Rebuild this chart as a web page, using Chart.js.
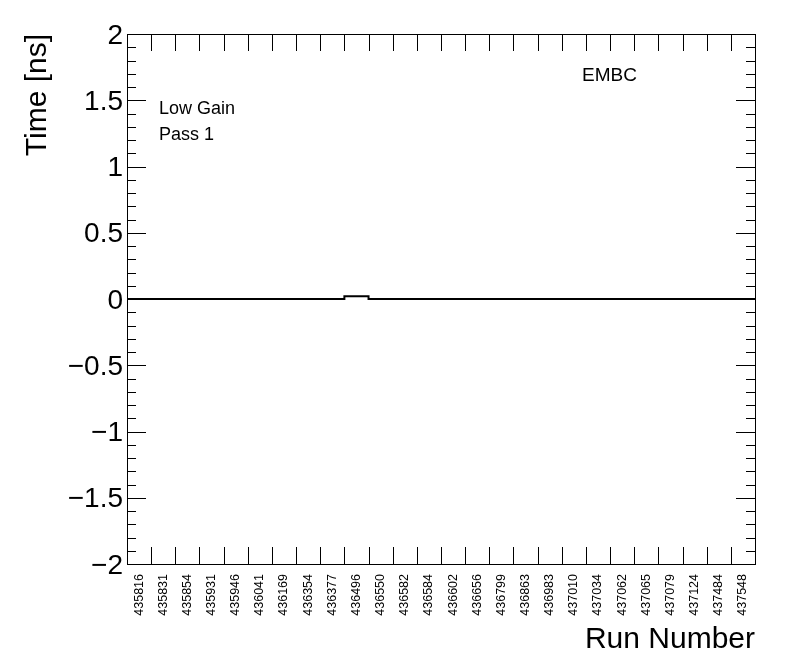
<!DOCTYPE html>
<html>
<head>
<meta charset="utf-8">
<script src="https://cdn.jsdelivr.net/npm/chart.js@4.4.1/dist/chart.umd.min.js"></script>
<style>
  html, body { margin: 0; padding: 0; background: #fff; }
  #c { display: block; }
</style>
</head>
<body>
<canvas id="c" width="796" height="672"></canvas>
<script>
// numeros de run (una categoria por bin)
var runs = ['435816','435831','435854','435931','435946','436041','436169','436354','436377','436496',
            '436550','436582','436584','436602','436656','436799','436863','436983','437010','437034',
            '437062','437065','437079','437124','437484','437548'];
// tiempo medio por run [ns]
var timeVals = [0,0,0,0,0,0,0,0,0,0.02,0,0,0,0,0,0,0,0,0,0,0,0,0,0,0,0];
var yTicks = [-2, -1.5, -1, -0.5, 0, 0.5, 1, 1.5, 2];
var textLabels = [['Low Gain', 159, 114], ['Pass 1', 159, 140]];

// puntos en el borde de cada bin, con el ultimo bin cerrado en x = n
var pts = timeVals.map(function(v, i) { return {x: i, y: v}; });
pts.push({x: runs.length, y: timeVals[timeVals.length - 1]});

// marco y marcas hacia dentro, al estilo ROOT
var rootFrame = {
  id: 'rootFrame',
  afterDraw: function(chart) {
    var ctx = chart.ctx, a = chart.chartArea;
    var xs = chart.scales.x, ys = chart.scales.y;
    ctx.save();
    ctx.strokeStyle = '#000';
    ctx.lineWidth = 1;
    ctx.beginPath();
    for (var i = 0; i <= runs.length; i++) {
      var px = Math.round(xs.getPixelForValue(i)) + 0.5;
      ctx.moveTo(px, a.bottom); ctx.lineTo(px, a.bottom - 17);
      ctx.moveTo(px, a.top); ctx.lineTo(px, a.top + 17);
    }
    for (var k = -20; k <= 20; k++) {
      var py = Math.round(ys.getPixelForValue(k / 10)) + 0.5;
      var len = (k % 5 === 0) ? 19 : 9;
      ctx.moveTo(a.left, py); ctx.lineTo(a.left + len, py);
      ctx.moveTo(a.right, py); ctx.lineTo(a.right - len, py);
    }
    ctx.stroke();
    ctx.strokeRect(Math.round(a.left) + 0.5, Math.round(a.top) + 0.5,
                   Math.round(a.right - a.left), Math.round(a.bottom - a.top));

    ctx.fillStyle = '#000';
    ctx.textBaseline = 'alphabetic';
    ctx.textAlign = 'left';
    ctx.font = '18px "Liberation Sans", Arial, sans-serif';
    textLabels.forEach(function(t) { ctx.fillText(t[0], t[1], t[2]); });
    ctx.font = '19px "Liberation Sans", Arial, sans-serif';
    ctx.fillText('EMBC', 582, 81);
    ctx.restore();
  }
};

var ctx = document.getElementById('c').getContext('2d');
var chart = new Chart(ctx, {
  type: 'line',
  data: {
    datasets: [{
      data: pts,
      stepped: true,
      borderColor: '#000',
      borderWidth: 2,
      pointRadius: 0,
      fill: false
    }]
  },
  options: {
    responsive: false,
    animation: false,
    layout: { padding: { top: 34, right: 41, left: 0, bottom: 0 } },
    plugins: { legend: { display: false }, tooltip: { enabled: false } },
    scales: {
      x: {
        type: 'linear',
        min: 0,
        max: runs.length,
        grid: { display: false, drawTicks: false },
        border: { display: false },
        afterBuildTicks: function(scale) {
          scale.ticks = runs.map(function(r, i) { return {value: i + 0.5}; });
        },
        afterFit: function(scale) { scale.height = 108; },
        ticks: {
          autoSkip: false,
          minRotation: 90,
          maxRotation: 90,
          padding: 10,
          color: '#000',
          font: { family: '"Liberation Sans", Arial, sans-serif', size: 12.5 },
          callback: function(v) { return runs[Math.floor(v)]; }
        },
        title: {
          display: true,
          text: 'Run Number',
          align: 'end',
          color: '#000',
          padding: { top: 0, bottom: 14 },
          font: { family: '"Liberation Sans", Arial, sans-serif', size: 30 }
        }
      },
      y: {
        min: -2,
        max: 2,
        grid: { display: false, drawTicks: false },
        border: { display: false },
        afterBuildTicks: function(scale) {
          scale.ticks = yTicks.map(function(v) { return {value: v}; });
        },
        afterFit: function(scale) { scale.width = 127; },
        ticks: {
          padding: 4,
          labelOffset: 2,
          color: '#000',
          font: { family: '"Liberation Sans", Arial, sans-serif', size: 28 },
          callback: function(v) { return v < 0 ? '\u2212' + Math.abs(v) : String(v); }
        },
        title: {
          display: true,
          text: 'Time [ns]',
          align: 'end',
          color: '#000',
          padding: { top: 20, bottom: 0 },
          font: { family: '"Liberation Sans", Arial, sans-serif', size: 30 }
        }
      }
    }
  },
  plugins: [rootFrame]
});
</script>
</body>
</html>
